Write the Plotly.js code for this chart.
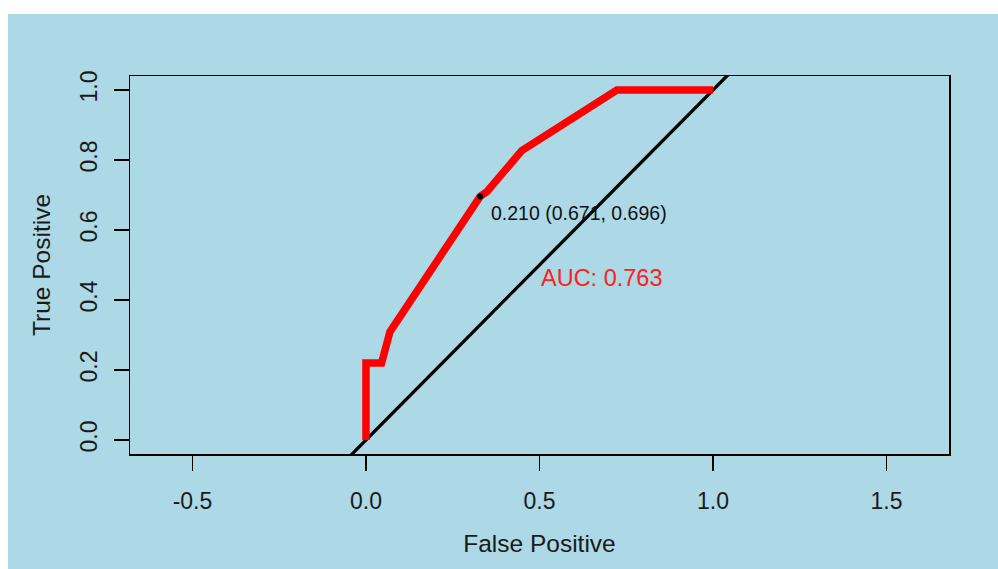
<!DOCTYPE html>
<html>
<head>
<meta charset="utf-8">
<script src="https://cdn.plot.ly/plotly-3.0.1.min.js"></script>
<style>
  html, body { margin: 0; padding: 0; background: #ffffff; width: 998px; height: 569px; overflow: hidden; }
  #chart { position: absolute; left: 8px; top: 14px; width: 990px; height: 555px; }
</style>
</head>
<body>
<div id="chart"></div>
<script>
// ROC curve points (false positive rate, true positive rate)
const rocFPR = [0, 0, 0.045, 0.069, 0.329, 0.349, 0.449, 0.723, 1.0];
const rocTPR = [0, 0.22, 0.22, 0.309, 0.696, 0.71, 0.827, 1.0, 1.0];

// Identity (chance) line
const identityX = [-0.1, 1.1];
const identityY = [-0.1, 1.1];

// Best threshold point
const thresholdValue = 0.210;
const thresholdSpecificity = 0.671;
const thresholdSensitivity = 0.696;
const thresholdFPR = [0.329];
const thresholdTPR = [0.696];

const aucValue = 0.763;

// Tick labels
const xTickVals = [-0.5, 0, 0.5, 1.0, 1.5];
const xTickText = ["-0.5", "0.0", "0.5", "1.0", "1.5"];
const yTickVals = [0, 0.2, 0.4, 0.6, 0.8, 1.0];
const yTickText = ["0.0", "0.2", "0.4", "0.6", "0.8", "1.0"];

const FONT = '"Liberation Sans", Arial, sans-serif';
const BG = '#ADD8E6';

const traces = [
  {
    x: identityX, y: identityY, type: 'scatter', mode: 'lines',
    line: { color: '#000000', width: 3.3 }, hoverinfo: 'skip', showlegend: false
  },
  {
    x: rocFPR, y: rocTPR, type: 'scatter', mode: 'lines',
    line: { color: '#FF0000', width: 7.5 }, showlegend: false
  },
  {
    x: thresholdFPR, y: thresholdTPR, type: 'scatter', mode: 'markers',
    marker: { color: '#000000', size: 6 }, showlegend: false
  }
];

const layout = {
  width: 990, height: 555,
  paper_bgcolor: BG, plot_bgcolor: BG,
  margin: { l: 122, r: 49, t: 62, b: 115, pad: 0 },
  showlegend: false,
  font: { family: FONT, color: '#000000', size: 23 },
  xaxis: {
    range: [-0.68, 1.68], fixedrange: true,
    tickmode: 'array', tickvals: xTickVals, ticktext: xTickText,
    ticks: 'outside', ticklen: 15, tickwidth: 1.5, tickcolor: '#000000',
    ticklabelstandoff: 11,
    showline: true, mirror: true, linecolor: '#000000', linewidth: 1.5,
    showgrid: false, zeroline: false,
    tickfont: { family: FONT, size: 23, color: '#1a1a1a' },
    title: { text: 'False Positive', font: { family: FONT, size: 24.5, color: '#1a1a1a' }, standoff: 22 }
  },
  yaxis: {
    range: [-0.04, 1.04], fixedrange: true,
    tickmode: 'array', tickvals: yTickVals, ticktext: yTickText,
    ticks: 'outside', ticklen: 15, tickwidth: 1.5, tickcolor: '#000000',
    ticklabelstandoff: 7, tickangle: -90,
    showline: true, mirror: true, linecolor: '#000000', linewidth: 1.5,
    showgrid: false, zeroline: false,
    tickfont: { family: FONT, size: 23, color: '#1a1a1a' },
    title: { text: 'True Positive', font: { family: FONT, size: 24.5, color: '#1a1a1a' }, standoff: 18 }
  },
  annotations: [
    {
      x: 0.355, y: 0.649, xref: 'x', yref: 'y',
      xanchor: 'left', yanchor: 'middle', showarrow: false,
      text: thresholdValue.toFixed(3) + ' (' + thresholdSpecificity.toFixed(3) + ', ' + thresholdSensitivity.toFixed(3) + ')',
      font: { family: FONT, size: 19.5, color: '#111111' }
    },
    {
      x: 0.499, y: 0.463, xref: 'x', yref: 'y',
      xanchor: 'left', yanchor: 'middle', showarrow: false,
      text: 'AUC: ' + aucValue.toFixed(3),
      font: { family: FONT, size: 23.5, color: '#FF2020' }
    }
  ]
};

Plotly.newPlot('chart', traces, layout, { displayModeBar: false, staticPlot: true });
</script>
</body>
</html>
